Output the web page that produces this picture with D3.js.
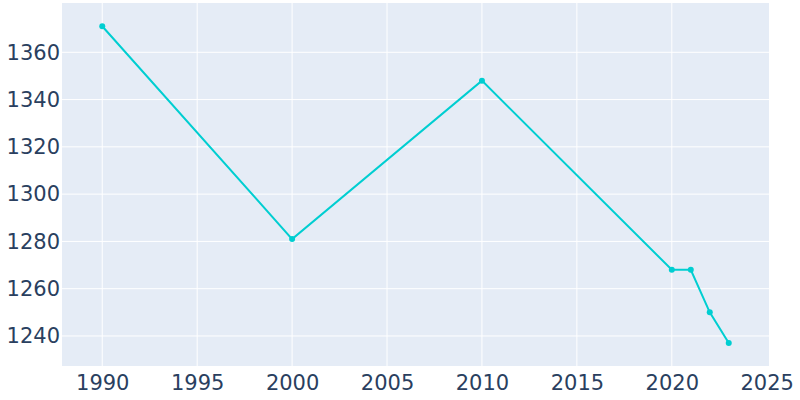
<!DOCTYPE html>
<html><head><meta charset="utf-8">
<script src="https://cdn.jsdelivr.net/npm/d3@7"></script>
<style>body{margin:0;background:#fff}svg{display:block}</style>
</head><body>
<svg id="c" width="800" height="400"></svg>
<script>
const years = [1990, 2000, 2010, 2020, 2021, 2022, 2023];
const population = [1371, 1281, 1348, 1268, 1268, 1250, 1237];
const xTicks = [1990, 1995, 2000, 2005, 2010, 2015, 2020, 2025];
const yTicks = [1240, 1260, 1280, 1300, 1320, 1340, 1360];

const svg = d3.select("#c");
const L = 62, R = 769, T = 3, B = 366;
const x = d3.scaleLinear().domain([1987.88, 2025.12]).range([L, R]);
const y = d3.scaleLinear().domain([1227.3, 1380.85]).range([B, T]);

svg.append("rect").attr("x", L).attr("y", T).attr("width", R - L).attr("height", B - T).attr("fill", "#e5ecf6");

svg.append("g").selectAll("line").data(xTicks.filter(d => d < 2025)).join("line")
  .attr("x1", d => x(d)).attr("x2", d => x(d)).attr("y1", T).attr("y2", B)
  .attr("stroke", "#fff").attr("stroke-width", 1);
svg.append("g").selectAll("line").data(yTicks).join("line")
  .attr("y1", d => y(d)).attr("y2", d => y(d)).attr("x1", L).attr("x2", R)
  .attr("stroke", "#fff").attr("stroke-width", 1);

const fontFam = "'DejaVu Sans', sans-serif";
const xAxis = svg.append("g").attr("transform", `translate(0,${B})`)
  .call(d3.axisBottom(x).tickValues(xTicks).tickFormat(d3.format("d")).tickSize(0).tickPadding(8));
const yAxis = svg.append("g").attr("transform", `translate(${L},0)`)
  .call(d3.axisLeft(y).tickValues(yTicks).tickFormat(d3.format("d")).tickSize(0).tickPadding(2));
[xAxis, yAxis].forEach(a => {
  a.select(".domain").remove();
  a.selectAll("text").attr("fill", "#2a3f5f").style("font-family", fontFam).style("font-size", "21px");
});
xAxis.selectAll("text").attr("dy", "0.75em");

const data = years.map((d, i) => ({ x: d, y: population[i] }));
svg.append("path").datum(data)
  .attr("fill", "none").attr("stroke", "#00ced1").attr("stroke-width", 2)
  .attr("d", d3.line().x(d => x(d.x)).y(d => y(d.y)));
svg.append("g").selectAll("circle").data(data).join("circle")
  .attr("cx", d => x(d.x)).attr("cy", d => y(d.y)).attr("r", 3).attr("fill", "#00ced1");
</script>
</body></html>
